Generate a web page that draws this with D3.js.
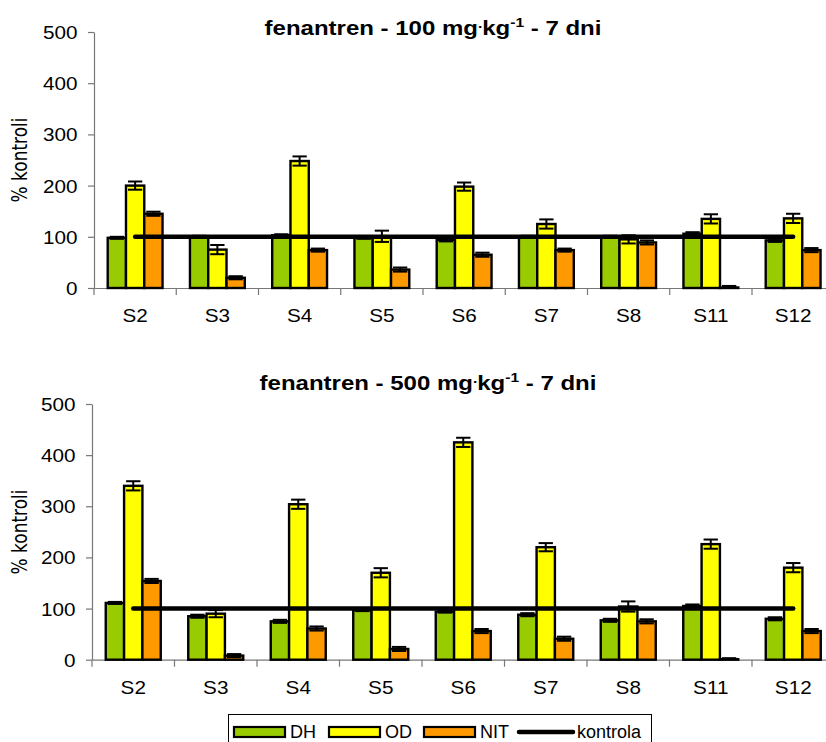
<!DOCTYPE html>
<html>
<head>
<meta charset="utf-8">
<script src="https://cdn.jsdelivr.net/npm/d3@7"></script>
<style>
  html, body { margin: 0; padding: 0; background: #fff; }
  svg { display: block; }
  text { font-family: "Liberation Sans", Arial, sans-serif; fill: #000; }
</style>
</head>
<body>
<svg id="chart" width="826" height="742"></svg>
<script>
// ---- data ----
const categories = ["S2", "S3", "S4", "S5", "S6", "S7", "S8", "S11", "S12"];
const seriesNames = ["DH", "OD", "NIT"];
const yTicks = [0, 100, 200, 300, 400, 500];
const controlValue = 100;

// panel 1: fenantren 100 mg/kg
const dh100  = [98, 100, 103, 98, 94, 100, 100, 106, 93];
const od100  = [200, 75, 248, 101, 198, 125, 95, 135, 136];
const nit100 = [145, 20, 74, 36, 65, 74, 89, 1, 74];
const dh100Err  = [2, 2, 2, 2, 3, 2, 2, 3, 3];
const od100Err  = [8, 9, 9, 11, 8, 9, 8, 9, 9];
const nit100Err = [4, 3, 3, 4, 4, 3, 4, 3, 4];

// panel 2: fenantren 500 mg/kg
const dh500  = [111, 85, 75, 97, 94, 88, 77, 105, 80];
const od500  = [340, 90, 304, 170, 425, 220, 104, 226, 180];
const nit500 = [154, 8, 61, 21, 56, 41, 75, 1, 56];
const dh500Err  = [2, 3, 3, 2, 2, 3, 3, 3, 3];
const od500Err  = [9, 7, 9, 9, 9, 8, 10, 9, 9];
const nit500Err = [4, 3, 4, 4, 4, 4, 4, 2, 4];

const colors = { DH: "#99CC00", OD: "#FFFF00", NIT: "#FF9900" };

const svg = d3.select("#chart");

function buildRows(vals, errs) {
  return categories.map((c, i) => ({
    cat: c,
    items: seriesNames.map((s, j) => ({ s, v: vals[j][i], e: errs[j][i] }))
  }));
}

function panel(cfg) {
  const g = svg.append("g");
  const y = d3.scaleLinear().domain([0, 500]).range([cfg.y0, cfg.y500]);
  const x0 = d3.scaleBand().domain(categories)
    .range([cfg.left, cfg.left + cfg.step * categories.length])
    .paddingInner(0).paddingOuter(0);
  const bw = cfg.step / 4.5;
  const x1 = d3.scaleBand().domain(seriesNames)
    .range([bw * 0.75, cfg.step - bw * 0.75]).padding(0);

  // y axis
  const yAxis = d3.axisLeft(y).tickValues(yTicks).tickSize(6).tickSizeOuter(0);
  const ya = g.append("g").attr("transform", `translate(${cfg.left},0)`).call(yAxis);
  ya.select(".domain").attr("stroke", "#777").attr("stroke-width", 1.2);
  ya.selectAll(".tick line").attr("stroke", "#777").attr("stroke-width", 1.2);
  ya.selectAll(".tick text")
    .attr("x", 0).attr("dy", "0.36em")
    .attr("transform", "translate(-16.5,0) scale(1.15,1)")
    .style("font-size", "18px").attr("fill", "#000");

  // x axis (labels centered, ticks at boundaries)
  const xAxis = d3.axisBottom(x0).tickSize(0).tickSizeOuter(0);
  const xa = g.append("g").attr("transform", `translate(0,${cfg.y0})`).call(xAxis);
  xa.select(".domain").attr("stroke", "#777").attr("stroke-width", 1.2);
  xa.selectAll(".tick text")
    .attr("y", 0).attr("dy", 0)
    .attr("transform", `translate(0,${cfg.labelOff}) scale(1.15,1)`)
    .style("font-size", "18px").attr("fill", "#000");
  const bounds = categories.map(c => x0(c)).concat([x0.range()[1]]);
  g.append("g").selectAll("line").data(bounds).join("line")
    .attr("x1", d => d).attr("x2", d => d)
    .attr("y1", cfg.y0).attr("y2", cfg.y0 + 7)
    .attr("stroke", "#777").attr("stroke-width", 1.2);

  // bars
  const groups = g.append("g").selectAll("g").data(cfg.rows).join("g")
    .attr("transform", d => `translate(${x0(d.cat)},0)`);
  groups.selectAll("rect").data(d => d.items).join("rect")
    .attr("x", d => x1(d.s))
    .attr("width", x1.bandwidth())
    .attr("y", d => y(d.v))
    .attr("height", d => y(0) - y(d.v))
    .attr("fill", d => colors[d.s])
    .attr("stroke", "#000").attr("stroke-width", 2.4);

  // error bars
  const cw = x1.bandwidth() - 4;
  const eb = groups.selectAll("g.err").data(d => d.items).join("g").attr("class", "err");
  eb.append("line")
    .attr("x1", d => x1(d.s) + x1.bandwidth() / 2)
    .attr("x2", d => x1(d.s) + x1.bandwidth() / 2)
    .attr("y1", d => y(Math.max(0, d.v - d.e)))
    .attr("y2", d => y(d.v + d.e))
    .attr("stroke", "#000").attr("stroke-width", 2);
  eb.append("line")
    .attr("x1", d => x1(d.s) + x1.bandwidth() / 2 - cw / 2)
    .attr("x2", d => x1(d.s) + x1.bandwidth() / 2 + cw / 2)
    .attr("y1", d => y(d.v + d.e)).attr("y2", d => y(d.v + d.e))
    .attr("stroke", "#000").attr("stroke-width", 2);
  eb.filter(d => d.v - d.e > 0).append("line")
    .attr("x1", d => x1(d.s) + x1.bandwidth() / 2 - cw / 2)
    .attr("x2", d => x1(d.s) + x1.bandwidth() / 2 + cw / 2)
    .attr("y1", d => y(d.v - d.e)).attr("y2", d => y(d.v - d.e))
    .attr("stroke", "#000").attr("stroke-width", 2);

  // control line
  const line = d3.line().x(d => x0(d) + x0.bandwidth() / 2).y(() => y(controlValue));
  g.append("path").datum(categories)
    .attr("d", line)
    .attr("fill", "none").attr("stroke", "#000")
    .attr("stroke-width", 4.5).attr("stroke-linecap", "round");

  // title
  const t = g.append("text")
    .attr("transform", `translate(${cfg.titleX},${cfg.titleY}) scale(1.2,1)`)
    .attr("text-anchor", "middle")
    .style("font-size", "20px").style("font-weight", "bold");
  t.append("tspan").text(cfg.titleA);
  t.append("tspan").attr("dy", -7).style("font-size", "13px").text(".");
  t.append("tspan").attr("dy", 7).text("kg");
  t.append("tspan").attr("dy", -8).style("font-size", "13px").text("-1");
  t.append("tspan").attr("dy", 8).text(" - 7 dni");

  // y axis title
  g.append("text")
    .attr("transform", `translate(${cfg.yTitleX},${cfg.yTitleY}) scale(1.2,1) rotate(-90)`)
    .attr("text-anchor", "middle")
    .style("font-family", "'DejaVu Sans', sans-serif")
    .style("font-size", "17px")
    .text("% kontroli");
}

panel({
  left: 94, step: 82.25, y0: 288, y500: 32, labelOff: 34,
  rows: buildRows([dh100, od100, nit100], [dh100Err, od100Err, nit100Err]),
  titleA: "fenantren - 100 mg", titleX: 433, titleY: 35,
  yTitleX: 27, yTitleY: 160
});
panel({
  left: 92, step: 82.5, y0: 659.7, y500: 404, labelOff: 34,
  rows: buildRows([dh500, od500, nit500], [dh500Err, od500Err, nit500Err]),
  titleA: "fenantren - 500 mg", titleX: 428, titleY: 390,
  yTitleX: 27, yTitleY: 532
});

// legend
const lg = svg.append("g");
lg.append("rect").attr("x", 228.5).attr("y", 714.5).attr("width", 423).attr("height", 40)
  .attr("fill", "#fff").attr("stroke", "#000").attr("stroke-width", 1);
const legendItems = seriesNames.map(s => ({ name: s, type: "bar" }))
  .concat([{ name: "kontrola", type: "line" }]);
const legendX = d3.scalePoint().domain(legendItems.map(d => d.name)).range([234, 519]);
const li = lg.selectAll("g").data(legendItems).join("g")
  .attr("transform", d => `translate(${legendX(d.name)},732)`);
li.filter(d => d.type === "bar").append("rect")
  .attr("x", 0).attr("y", -5).attr("width", 51).attr("height", 10)
  .attr("fill", d => colors[d.name]).attr("stroke", "#000").attr("stroke-width", 2.2);
li.filter(d => d.type === "line").append("line")
  .attr("x1", 0).attr("x2", 54).attr("y1", 0).attr("y2", 0)
  .attr("stroke", "#000").attr("stroke-width", 4.5).attr("stroke-linecap", "round");
li.append("text")
  .attr("x", d => d.type === "line" ? 58 : 56)
  .attr("y", 0).attr("dy", "0.36em")
  .style("font-size", "18px")
  .text(d => d.name);
</script>
</body>
</html>
